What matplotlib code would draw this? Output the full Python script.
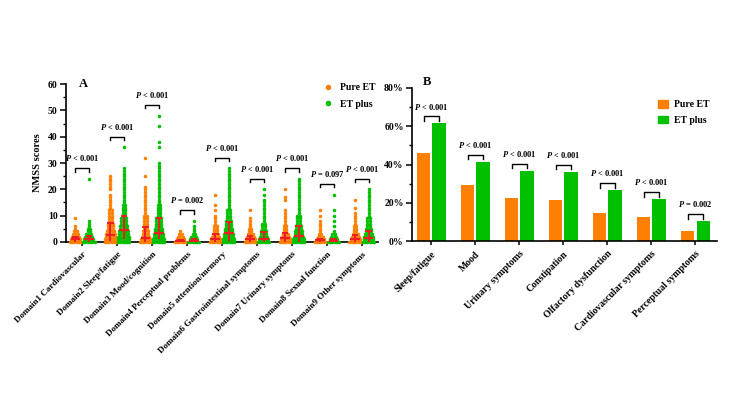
import matplotlib
matplotlib.use("Agg")
import matplotlib.pyplot as plt
from matplotlib.ticker import MultipleLocator, FuncFormatter
from matplotlib.lines import Line2D
from matplotlib.patches import Patch

plt.rcParams['font.family'] = ['Liberation Serif', 'DejaVu Serif']
plt.rcParams['font.weight'] = 'bold'
plt.rcParams['mathtext.fontset'] = 'custom'
plt.rcParams['mathtext.it'] = 'Liberation Serif:italic:bold'
plt.rcParams['mathtext.rm'] = 'Liberation Serif:bold'
plt.rcParams['mathtext.bf'] = 'Liberation Serif:bold'

ORANGE = '#ff8000'
GREEN = '#00c000'
RED = '#ee1c25'

# ---------------- Panel A data ----------------
domains = ['Domain1 Cardiovascular', 'Domain2 Sleep/fatigue', 'Domain3 Mood/cognition',
           'Domain4 Perceptual problems', 'Domain5 attention/memory',
           'Domain6 Gastrointestinal symptoms', 'Domain7 Urinary symptoms',
           'Domain8 Sexual function', 'Domain9 Other symptoms']

# distinct scores observed per domain and how many dots sit side by side at that score
pure_scores = [
    [0, 1, 2, 3, 4, 5, 6, 9],
    list(range(0, 15)) + [15, 16, 17, 18, 20, 21, 22, 23, 24, 25],
    list(range(0, 22)) + [25, 32],
    [0, 1, 2, 3, 4],
    list(range(0, 11)) + [12, 14, 18],
    list(range(0, 10)) + [12],
    list(range(0, 13)) + [16, 17, 20],
    list(range(0, 9)) + [10, 12],
    list(range(0, 12)) + [13, 16],
]
pure_counts = [
    [6, 5, 4, 3, 2, 1, 1, 1],
    [6, 6, 5, 5, 4, 3, 3, 3, 2, 2, 2, 2, 2, 1, 1] + [1] * 10,
    [6, 5, 4, 3, 3, 2, 2, 2, 2, 2, 2] + [1] * 11 + [1, 1],
    [6, 4, 3, 2, 1],
    [6, 5, 4, 3, 2, 2, 2, 1, 1, 1, 1] + [1, 1, 1],
    [6, 5, 4, 3, 2, 2, 1, 1, 1, 1] + [1],
    [6, 5, 4, 3, 2, 2, 2, 1, 1, 1, 1, 1, 1] + [1, 1, 1],
    [6, 4, 3, 2, 1, 1, 1, 1, 1] + [1, 1],
    [6, 5, 4, 3, 2, 2, 2, 1, 1, 1, 1, 1] + [1, 1],
]
plus_scores = [
    [0, 1, 2, 3, 4, 5, 6, 7, 8, 24],
    list(range(0, 29)) + [36],
    list(range(0, 31)) + [36, 38, 44, 48],
    [0, 1, 2, 3, 4, 5, 6, 8],
    list(range(0, 29)),
    list(range(0, 17)) + [18, 20],
    list(range(0, 25)),
    [0, 1, 2, 3, 4, 6, 8, 10, 12, 18],
    list(range(0, 21)),
]
plus_counts = [
    [6, 5, 4, 3, 2, 2, 1, 1, 1, 1],
    [6, 6, 6, 5, 5, 4, 4, 3, 3, 3, 2, 2, 2, 2, 2] + [1] * 14 + [1],
    [6, 6, 5, 5, 4, 4, 3, 3, 3, 3, 2, 2, 2, 2, 2] + [1] * 16 + [1, 1, 1, 1],
    [6, 4, 3, 2, 1, 1, 1, 1],
    [6, 6, 5, 5, 4, 4, 3, 3, 3, 2, 2, 2, 2] + [1] * 16,
    [6, 5, 4, 3, 3, 2, 2, 2, 1, 1, 1, 1, 1, 1, 1, 1, 1] + [1, 1],
    [6, 6, 5, 4, 4, 3, 3, 2, 2, 2, 2] + [1] * 14,
    [6, 4, 3, 2, 1, 1, 1, 1, 1, 1],
    [6, 5, 5, 4, 3, 3, 2, 2, 2, 2] + [1] * 11,
]
pure_median = [1.0, 2.7, 1.6, 0.5, 1.3, 1.1, 1.5, 0.7, 1.3]
pure_q1 = [0, 0.5, 0, 0, 0, 0, 0, 0, 0]
pure_q3 = [2.0, 7.1, 5.6, 0.9, 3.2, 2.3, 3.4, 1.1, 2.7]
plus_median = [1.0, 4.7, 3.3, 0.5, 3.3, 1.1, 2.4, 0.5, 1.5]
plus_q1 = [0, 1, 1, 0, 0.5, 0, 0, 0, 0]
plus_q3 = [2.3, 10.0, 9.2, 1.1, 7.5, 3.7, 6.0, 1.3, 4.3]
pA_text = ['< 0.001', '< 0.001', '< 0.001', '= 0.002', '< 0.001',
           '< 0.001', '< 0.001', '= 0.097', '< 0.001']

# ---------------- Panel B data ----------------
symptoms = ['Sleep/fatigue', 'Mood', 'Urinary symptoms', 'Constipation',
            'Olfactory dysfunction', 'Cardiovascular symptoms', 'Perceptual symptoms']
pure_pct = [46.2, 29.1, 22.6, 21.3, 14.5, 12.4, 5.4]
plus_pct = [61.5, 41.5, 36.8, 36.2, 26.7, 22.0, 10.5]
pB_text = ['< 0.001', '< 0.001', '< 0.001', '< 0.001', '< 0.001', '< 0.001', '= 0.002']

fig = plt.figure(figsize=(7.31, 4.11), dpi=100)

# ================= Panel A =================
axA = fig.add_axes([0.0903, 0.4112, 0.4268, 0.3844])
dx = 0.066
off = 0.19


def draw_dots(ax, xc, scores, counts, color):
    xs, ys = [], []
    for s, c in zip(scores, counts):
        k = min(c, 6)
        for j in range(k):
            xs.append(xc + (j - (k - 1) / 2) * dx)
            ys.append(s)
    ax.scatter(xs, ys, s=6.5, color=color, linewidths=0, zorder=3, clip_on=False)


for i in range(len(domains)):
    draw_dots(axA, i - off, pure_scores[i], pure_counts[i], ORANGE)
    draw_dots(axA, i + off, plus_scores[i], plus_counts[i], GREEN)

for i in range(len(domains)):
    for xc, med, q1, q3 in [(i - off, pure_median[i], pure_q1[i], pure_q3[i]),
                            (i + off, plus_median[i], plus_q1[i], plus_q3[i])]:
        axA.vlines(xc, q1, q3, color=RED, lw=1.4, zorder=5)
        axA.hlines(q3, xc - 0.09, xc + 0.09, color=RED, lw=1.4, zorder=5)
        axA.hlines(med, xc - 0.14, xc + 0.14, color=RED, lw=1.6, zorder=5)

# significance brackets
for i in range(len(domains)):
    top = max(max(pure_scores[i]), max(plus_scores[i]))
    yb = top + 4.0
    axA.plot([i - off, i - off, i + off, i + off], [yb - 1.3, yb, yb, yb - 1.3],
             color='black', lw=1.0, zorder=4, clip_on=False)
    axA.text(i, yb + 3.8, r'$P$ ' + pA_text[i], ha='center', va='center',
             fontsize=6, fontweight='bold')

axA.set_xlim(-0.46, 8.46)
axA.set_ylim(0, 60)
axA.spines['top'].set_visible(False)
axA.spines['right'].set_visible(False)
axA.spines['left'].set_linewidth(1.2)
axA.spines['bottom'].set_linewidth(1.2)
axA.set_xticks(range(len(domains)))
axA.set_xticklabels(domains, rotation=45, ha='right', va='top', rotation_mode='anchor',
                    fontsize=6.5, fontweight='bold')
axA.yaxis.set_major_locator(MultipleLocator(10))
axA.yaxis.set_minor_locator(MultipleLocator(5))
axA.tick_params(axis='y', which='major', length=4, width=1.1, labelsize=7, pad=2)
axA.tick_params(axis='y', which='minor', length=2.5, width=1.0)
axA.tick_params(axis='x', length=3, width=1.1, pad=3)
axA.set_ylabel('NMSS scores', fontsize=7.5, fontweight='bold', labelpad=4)
axA.text(0.04, 1.0, 'A', transform=axA.transAxes, fontsize=9, fontweight='bold',
         ha='left', va='center')

axA.legend(handles=[Line2D([], [], marker='o', ls='', color=ORANGE, markersize=3),
                    Line2D([], [], marker='o', ls='', color=GREEN, markersize=3)],
           labels=['Pure ET', 'ET plus'], loc='upper left',
           bbox_to_anchor=(0.435, 0.81), bbox_transform=fig.transFigure,
           frameon=False, handlelength=1.0, handletextpad=0.8, labelspacing=0.8,
           borderpad=0, prop={'size': 7, 'weight': 'bold'})

# ================= Panel B =================
axB = fig.add_axes([0.5636, 0.4136, 0.4172, 0.3723])
w = 0.30
ob = 0.175
xs = list(range(len(symptoms)))
axB.bar([x - ob for x in xs], pure_pct, width=w, color=ORANGE, zorder=2, label='Pure ET')
axB.bar([x + ob for x in xs], plus_pct, width=w, color=GREEN, zorder=2, label='ET plus')
for i in xs:
    top = max(pure_pct[i], plus_pct[i])
    yb = top + 3.6
    axB.plot([i - ob, i - ob, i + ob, i + ob], [yb - 2.4, yb, yb, yb - 2.4],
             color='black', lw=1.0, zorder=4)
    axB.text(i, yb + 5.0, r'$P$ ' + pB_text[i], ha='center', va='center',
             fontsize=6, fontweight='bold')

axB.set_xlim(-0.44, 6.49)
axB.set_ylim(0, 80)
axB.spines['top'].set_visible(False)
axB.spines['right'].set_visible(False)
axB.spines['left'].set_linewidth(1.2)
axB.spines['bottom'].set_linewidth(1.2)
axB.set_xticks(xs)
axB.set_xticklabels(symptoms, rotation=45, ha='right', va='top', rotation_mode='anchor',
                    fontsize=7, fontweight='bold')
axB.yaxis.set_major_locator(MultipleLocator(20))
axB.yaxis.set_minor_locator(MultipleLocator(10))
axB.yaxis.set_major_formatter(FuncFormatter(lambda v, p: f'{int(v)}%'))
axB.tick_params(axis='y', which='major', length=4, width=1.1, labelsize=7, pad=2)
axB.tick_params(axis='y', which='minor', length=2.5, width=1.0)
axB.tick_params(axis='x', length=3, width=1.1, pad=3)
axB.text(0.035, 1.04, 'B', transform=axB.transAxes, fontsize=9, fontweight='bold',
         ha='left', va='center')
axB.legend(handles=[Patch(color=ORANGE), Patch(color=GREEN)], labels=['Pure ET', 'ET plus'],
           loc='upper left', bbox_to_anchor=(0.894, 0.768), bbox_transform=fig.transFigure,
           frameon=False, handlelength=1.0, handleheight=0.8, handletextpad=0.6,
           labelspacing=0.65, borderpad=0, prop={'size': 7, 'weight': 'bold'})

fig.savefig('out.png', dpi=100)
